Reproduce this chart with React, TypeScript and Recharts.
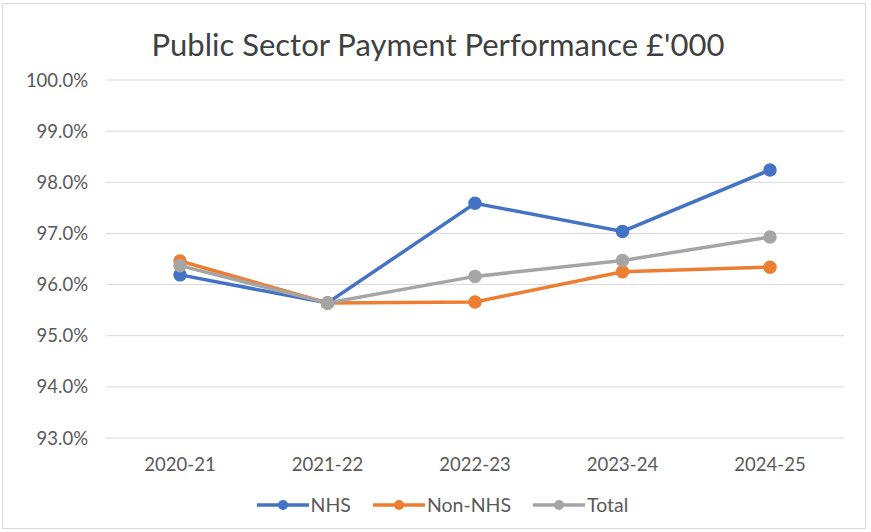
import React from 'react';
import { LineChart, Line, XAxis, YAxis, CartesianGrid, Legend } from 'recharts';

const years = ['2020-21', '2021-22', '2022-23', '2023-24', '2024-25'];
const nhs = [96.19, 95.64, 97.59, 97.04, 98.24];
const nonNhs = [96.46, 95.64, 95.66, 96.25, 96.34];
const total = [96.37, 95.64, 96.16, 96.47, 96.93];
const yTicks = [93, 94, 95, 96, 97, 98, 99, 100];

const seriesList = [
  { key: 'NHS', color: '#4472C4' },
  { key: 'Non-NHS', color: '#ED7D31' },
  { key: 'Total', color: '#A5A5A5' },
];

const data = years.map((year, i) => ({
  year,
  NHS: nhs[i],
  'Non-NHS': nonNhs[i],
  Total: total[i],
}));

const FONT = 'Lato, "Open Sans", sans-serif';

const LegendContent = () => (
  <div
    style={{
      display: 'flex',
      justifyContent: 'center',
      alignItems: 'center',
      gap: 22,
      fontFamily: FONT,
      fontSize: 19.5,
      color: '#595959',
      paddingLeft: 41,
    }}
  >
    {seriesList.map((s) => (
      <div key={s.key} style={{ display: 'flex', alignItems: 'center' }}>
        <svg width={52} height={14} style={{ marginRight: 2 }}>
          <line x1={0} y1={7} x2={52} y2={7} stroke={s.color} strokeWidth={3.5} />
          <circle cx={26} cy={7} r={5} fill={s.color} />
        </svg>
        <span>{s.key}</span>
      </div>
    ))}
  </div>
);

const App: React.FC = () => {
  return (
    <div
      style={{
        position: 'absolute',
        top: 0,
        left: 0,
        width: 871,
        height: 532,
        background: '#ffffff',
        fontFamily: FONT,
      }}
    >
      <div
        style={{
          position: 'absolute',
          left: 2,
          top: 3,
          width: 862,
          height: 524,
          border: '1px solid #d9d9d9',
        }}
      />
      <div
        style={{
          position: 'absolute',
          top: 24,
          left: 0,
          width: 876,
          textAlign: 'center',
          fontSize: 31,
          lineHeight: '40px',
          color: '#404040',
        }}
      >
        Public Sector Payment Performance £'000
      </div>
      <LineChart
        width={871}
        height={532}
        data={data}
        margin={{ top: 80, right: 27, bottom: 10, left: 0 }}
        style={{ position: 'absolute', top: 0, left: 0 }}
      >
        <CartesianGrid vertical={false} stroke="#d9d9d9" strokeWidth={1} />
        <XAxis
          dataKey="year"
          axisLine={false}
          tickLine={false}
          tickSize={0}
          tickMargin={20}
          height={46}
          padding={{ left: 74, right: 74 }}
          tick={{ fill: '#595959', fontSize: 18.5, fontFamily: FONT }}
        />
        <YAxis
          domain={[93, 100]}
          ticks={yTicks}
          width={106}
          axisLine={false}
          tickLine={false}
          tickSize={0}
          tickMargin={18}
          tickFormatter={(v: number) => `${v.toFixed(1)}%`}
          tick={{ fill: '#595959', fontSize: 18.5, fontFamily: FONT }}
        />
        <Legend
          verticalAlign="bottom"
          height={38}
          wrapperStyle={{ bottom: 1 }}
          content={<LegendContent />}
        />
        {seriesList.map((s) => (
          <Line
            key={s.key}
            type="linear"
            dataKey={s.key}
            stroke={s.color}
            strokeWidth={3.5}
            dot={{ r: 5, fill: s.color, stroke: s.color }}
            activeDot={false}
            isAnimationActive={false}
          />
        ))}
      </LineChart>
    </div>
  );
};

export default App;
